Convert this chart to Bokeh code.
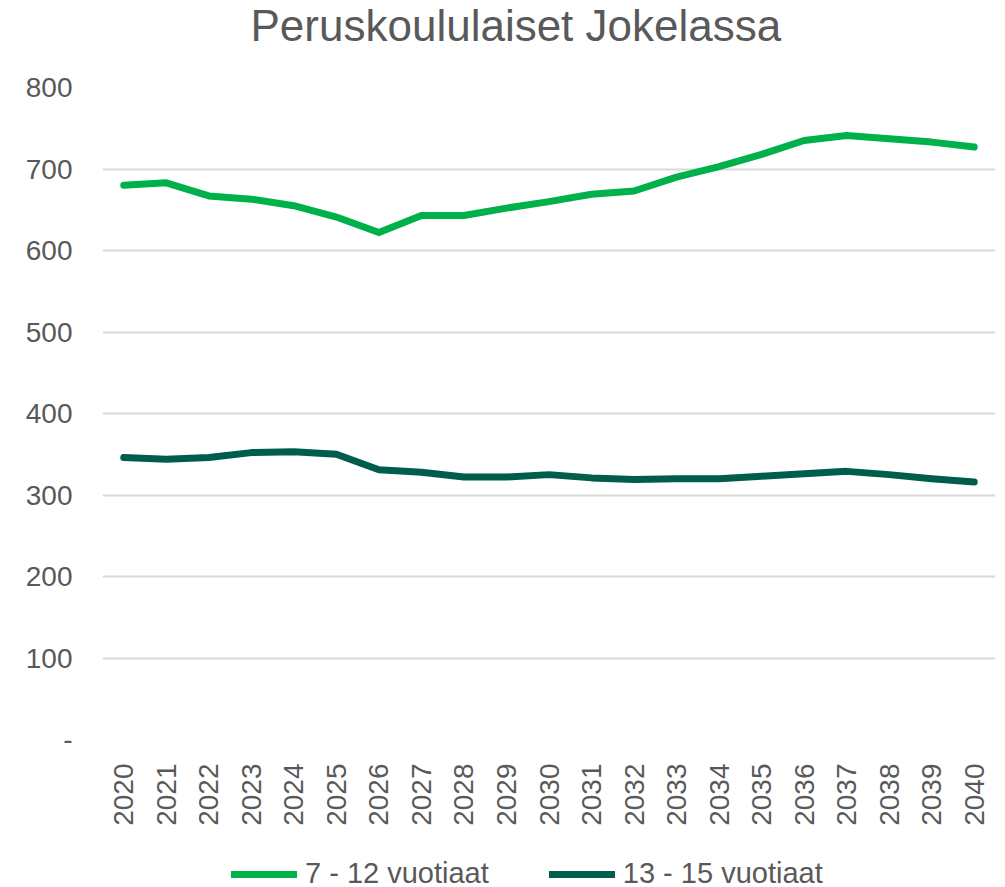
from bokeh.plotting import figure
from bokeh.models import Legend, LegendItem, Range1d, FactorRange, Label
from bokeh.layouts import column
from bokeh.embed import file_html
from bokeh.resources import INLINE
import math

years = [str(y) for y in range(2020, 2041)]
ages_7_12 = [680, 683, 667, 663, 655, 641, 622, 643, 643, 652, 660, 669, 673,
             690, 703, 718, 735, 741, 737, 733, 727]
ages_13_15 = [346, 344, 346, 352, 353, 350, 331, 328, 322, 322, 325, 321, 319,
              320, 320, 323, 326, 329, 325, 320, 316]
y_ticks = [0, 100, 200, 300, 400, 500, 600, 700, 800]
series_names = ["7 - 12 vuotiaat", "13 - 15 vuotiaat"]
title_text = "Peruskoululaiset Jokelassa"
colors = ["#00B04A", "#005C4B"]

TXT = "#595959"
FONT = "Liberation Sans"
W = 997
LEFT = 102
RIGHT = 2


def blank(height, x_range, y_range):
    f = figure(width=W, height=height, x_range=x_range, y_range=y_range,
               output_backend="svg", toolbar_location=None,
               min_border_left=LEFT, min_border_right=RIGHT,
               min_border_top=0, min_border_bottom=0)
    f.axis.visible = False
    f.grid.grid_line_color = None
    f.outline_line_color = None
    return f


# title strip
t = blank(66, Range1d(0, 1), Range1d(0, 1))
t.add_layout(Label(x=148, y=41, x_units="screen", y_units="screen", text=title_text,
                   text_font=FONT, text_font_size="44px", text_color=TXT,
                   text_baseline="alphabetic", text_align="left"))

# main chart
p = figure(width=W, height=767, x_range=FactorRange(*years), y_range=Range1d(0, 800),
           output_backend="svg", toolbar_location=None,
           min_border_left=LEFT, min_border_right=RIGHT, min_border_top=21,
           min_border_bottom=94)

p.outline_line_color = None
p.xgrid.grid_line_color = None
p.ygrid.grid_line_color = "#D9D9D9"
p.ygrid.grid_line_width = 2
p.yaxis.ticker = y_ticks
p.yaxis.major_label_overrides = {0: "-"}

for ax in (p.xaxis, p.yaxis):
    ax.axis_line_color = None
    ax.major_tick_line_color = None
    ax.minor_tick_line_color = None
    ax.major_tick_out = 0
    ax.major_tick_in = 0
    ax.major_label_text_font = FONT
    ax.major_label_text_font_size = "28px"
    ax.major_label_text_color = TXT

p.yaxis.major_label_standoff = 30
p.xaxis.major_label_standoff = 24
p.xaxis.major_label_orientation = math.pi / 2

p.line(years, ages_7_12, line_color=colors[0], line_width=7,
       line_join="round", line_cap="round")
p.line(years, ages_13_15, line_color=colors[1], line_width=7,
       line_join="round", line_cap="round")

# legend strip (proxy lines lie outside its visible range)
q = blank(60, FactorRange(*years), Range1d(-2000, -1000))
k1 = q.line(years, ages_7_12, line_color=colors[0], line_width=7, line_cap="round")
k2 = q.line(years, ages_13_15, line_color=colors[1], line_width=7, line_cap="round")

legend = Legend(items=[LegendItem(label=series_names[0], renderers=[k1]),
                       LegendItem(label=series_names[1], renderers=[k2])],
                orientation="horizontal", location=(129, 3),
                label_text_font=FONT, label_text_font_size="29px",
                label_text_color=TXT, glyph_width=66, glyph_height=20,
                spacing=60, label_standoff=8, border_line_color=None,
                background_fill_alpha=0, margin=0, padding=0)
q.add_layout(legend, "center")

layout = column(t, p, q, spacing=0)
open("out.html", "w").write(file_html(layout, INLINE))
